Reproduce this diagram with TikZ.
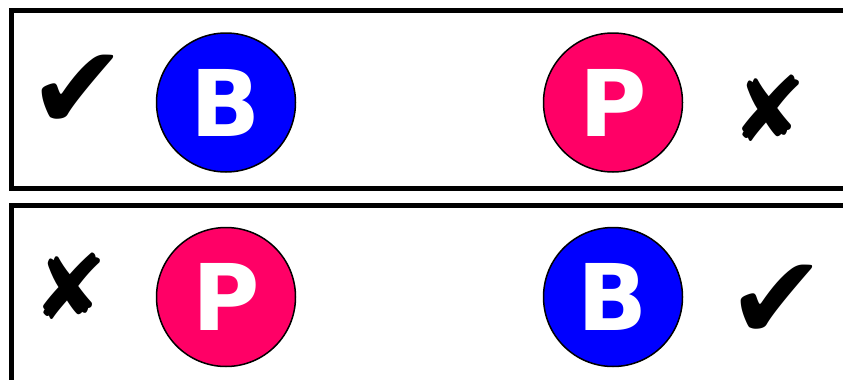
\documentclass[tikz,border=0pt]{standalone}
\usepackage{fontspec}
\newfontfamily\dejavu{DejaVu Sans}
\definecolor{bblue}{RGB}{0,0,255}
\definecolor{ppink}{RGB}{255,0,102}
\tikzset{
  panel/.style={draw=black, line width=5pt},
  disc/.style={circle, draw=black, line width=1.5pt, minimum size=139pt, inner sep=0pt,
    text=white, font=\dejavu\bfseries\fontsize{92}{92}\selectfont},
  crosssign/.style={inner sep=0pt, font=\dejavu\fontsize{90}{90}\selectfont},
  checksign/.style={inner sep=0pt, font=\dejavu\fontsize{118}{118}\selectfont}
}
\begin{document}
\begin{tikzpicture}[x=1pt,y=-1pt]
\useasboundingbox (0,0) rectangle (843,380);
\clip (0,0) rectangle (843,380);
\fill[white] (0,0) rectangle (843,380);
\draw[panel] (11.5,10.5) rectangle (870,188.5);
\draw[panel] (11.5,205.5) rectangle (870,420);
\node[disc, fill=bblue] (b1) at (226,102.5) {B};
\node[disc, fill=ppink] (p1) at (613,102.5) {P};
\node[disc, fill=ppink] (p2) at (226,297) {P};
\node[disc, fill=bblue] (b2) at (613,297) {B};
\node[checksign] (c1) at (78,92) {✔};
\node[crosssign] (x1) at (769,108) {✘};
\node[crosssign] (x2) at (70,286) {✘};
\node[checksign] (c2) at (777,302) {✔};
\end{tikzpicture}
\end{document}
